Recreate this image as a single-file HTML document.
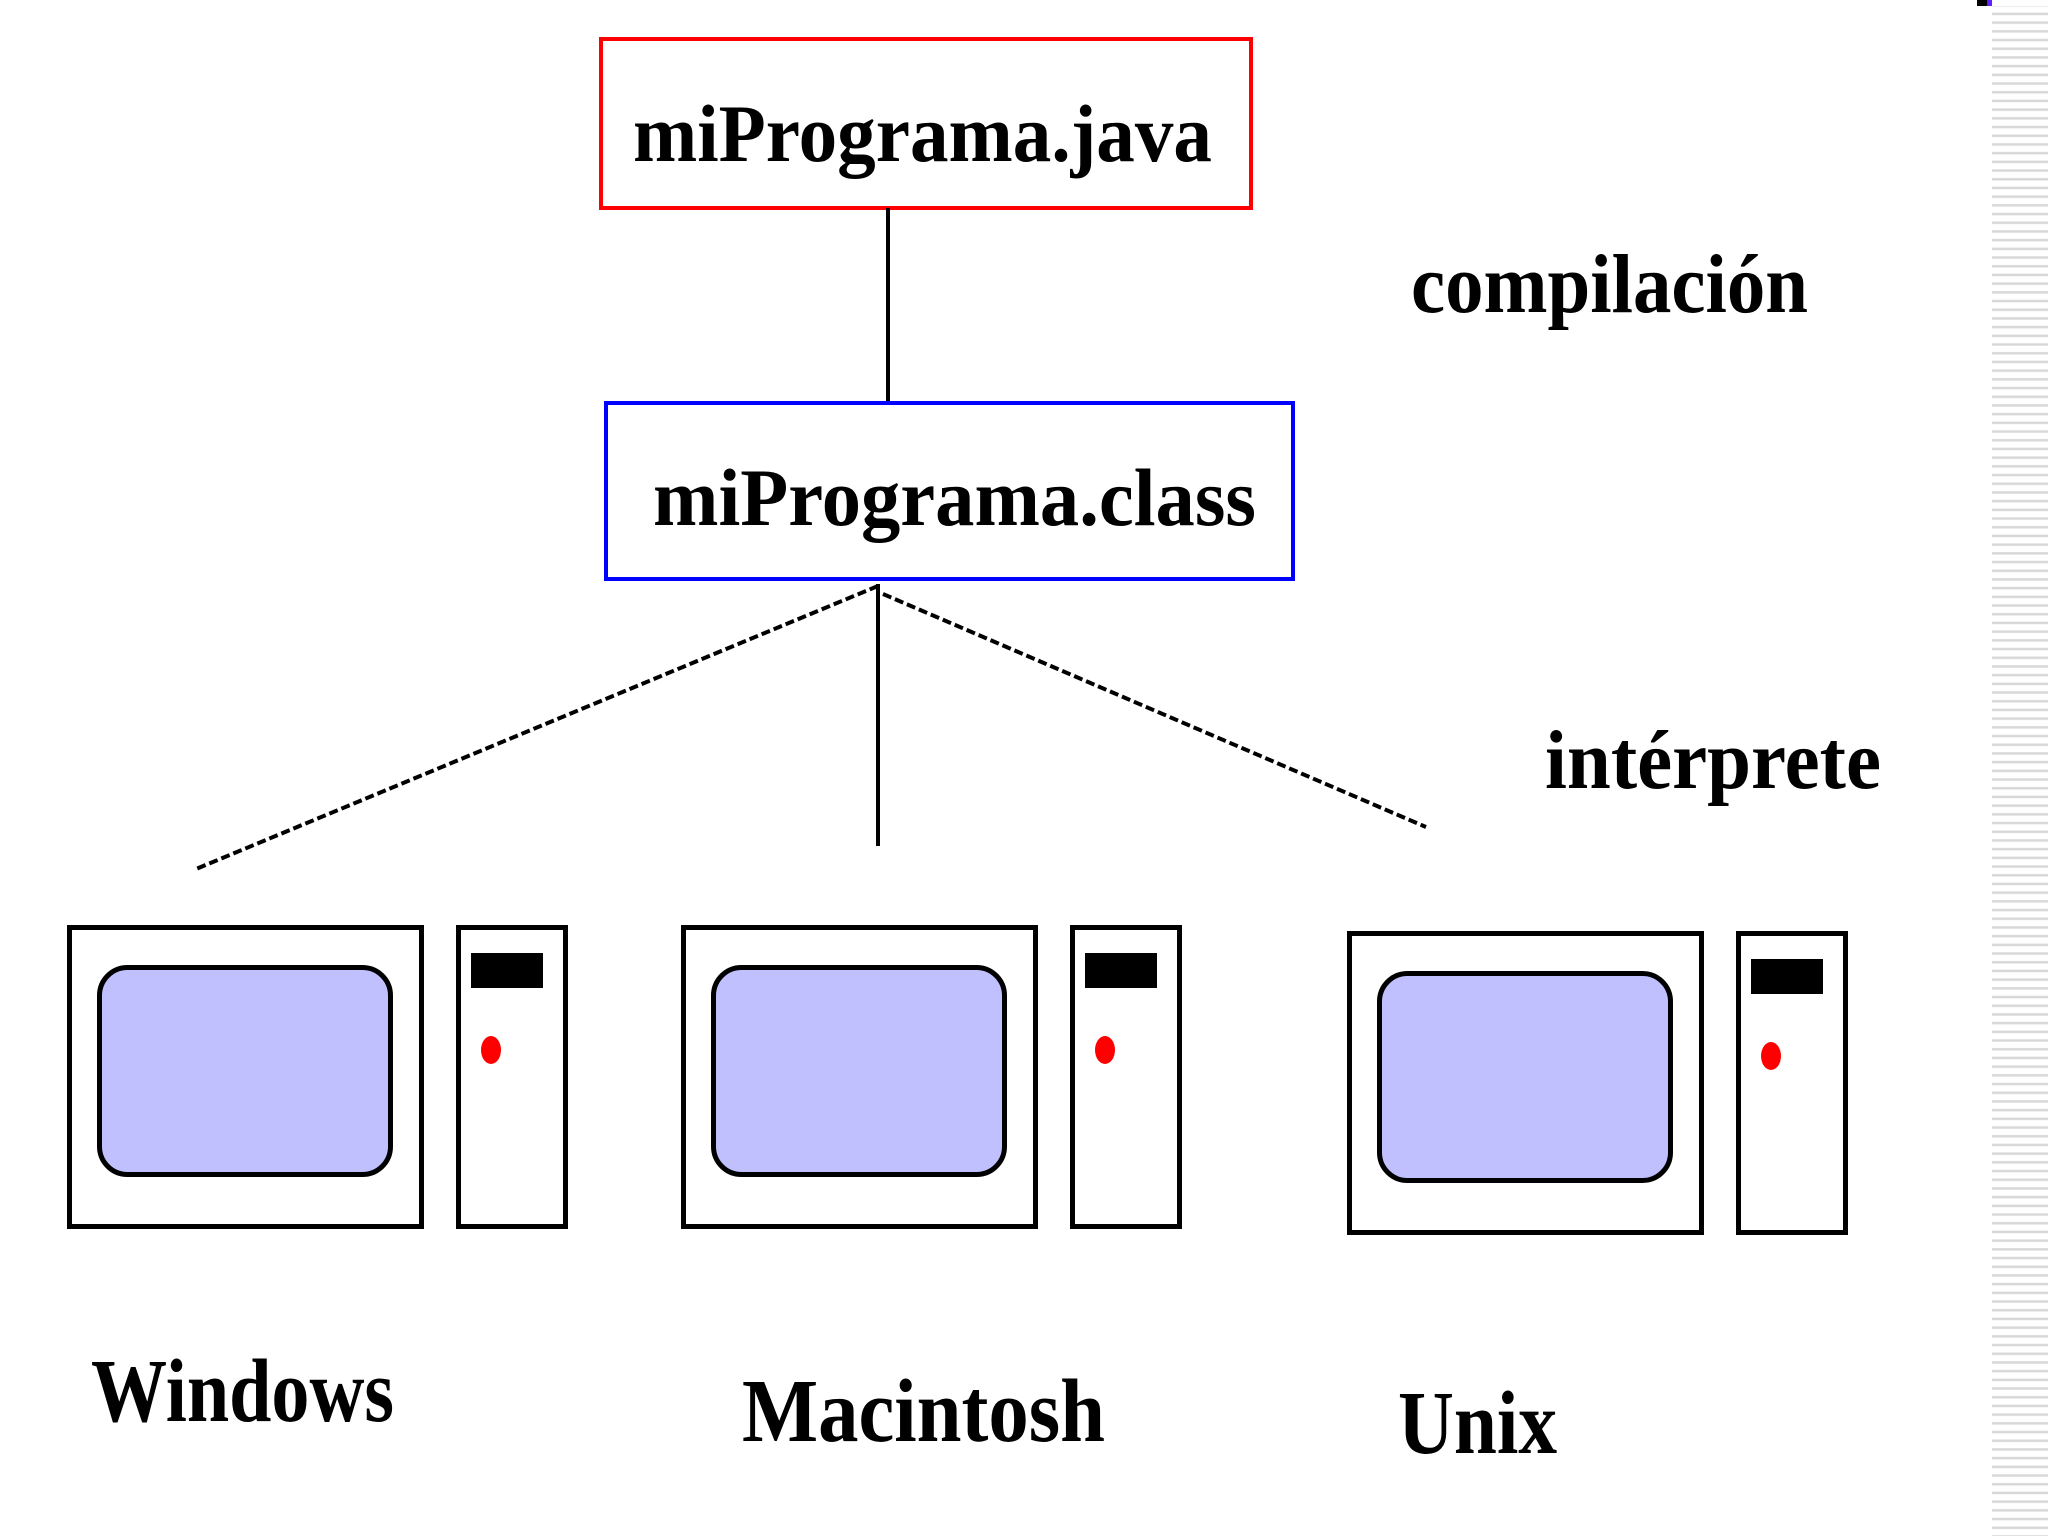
<!DOCTYPE html>
<html><head><meta charset="utf-8"><style>
html,body{margin:0;padding:0;background:#fff;}
svg{display:block;}
text{font-family:"Liberation Serif",serif;font-weight:bold;fill:#000;}
</style></head><body>
<svg width="2048" height="1536" viewBox="0 0 2048 1536" xmlns="http://www.w3.org/2000/svg">
<defs>
<pattern id="st" width="56" height="8.7" patternUnits="userSpaceOnUse">
<rect x="0" y="4" width="56" height="2.5" fill="#d8d8d8"/>
</pattern>
<g id="pc">
<rect x="69.5" y="927.5" width="352" height="299" fill="#fff" stroke="#000" stroke-width="5"/>
<rect x="99.5" y="967.5" width="291" height="207" rx="28" fill="#c0c0ff" stroke="#000" stroke-width="5"/>
<rect x="458.5" y="927.5" width="107" height="299" fill="#fff" stroke="#000" stroke-width="5"/>
<rect x="471" y="953" width="72" height="35" fill="#000"/>
<ellipse cx="491" cy="1050" rx="10" ry="14" fill="#f00"/>
</g>
</defs>
<rect x="1992" y="6" width="56" height="1530" fill="url(#st)"/>
<rect x="1977" y="0" width="10" height="6" fill="#000"/>
<rect x="1987" y="0" width="5" height="6" fill="#6020ff"/>

<rect x="601" y="39" width="650" height="169" fill="none" stroke="#f00" stroke-width="4"/>
<text x="633" y="161" font-size="82" textLength="579" lengthAdjust="spacingAndGlyphs">miPrograma.java</text>

<line x1="888" y1="208" x2="888" y2="402" stroke="#000" stroke-width="4"/>

<rect x="606" y="403" width="687" height="176" fill="none" stroke="#00f" stroke-width="4"/>
<text x="653" y="525" font-size="82" textLength="603" lengthAdjust="spacingAndGlyphs">miPrograma.class</text>

<text x="1411" y="312" font-size="84" textLength="397" lengthAdjust="spacingAndGlyphs">compilación</text>
<text x="1545" y="788" font-size="84" textLength="336" lengthAdjust="spacingAndGlyphs">intérprete</text>

<line x1="878" y1="584" x2="878" y2="846" stroke="#000" stroke-width="4"/>
<line x1="878" y1="586" x2="196" y2="869" stroke="#000" stroke-width="4" stroke-dasharray="9,4"/>
<line x1="883" y1="594" x2="1426" y2="827" stroke="#000" stroke-width="4" stroke-dasharray="9,4"/>

<use href="#pc"/>
<use href="#pc" x="614" y="0"/>
<use href="#pc" x="1280" y="6"/>

<text x="91" y="1421" font-size="90" textLength="303" lengthAdjust="spacingAndGlyphs">Windows</text>
<text x="742" y="1441" font-size="90" textLength="363" lengthAdjust="spacingAndGlyphs">Macintosh</text>
<text x="1398" y="1453" font-size="90" textLength="159" lengthAdjust="spacingAndGlyphs">Unix</text>
</svg>
</body></html>
